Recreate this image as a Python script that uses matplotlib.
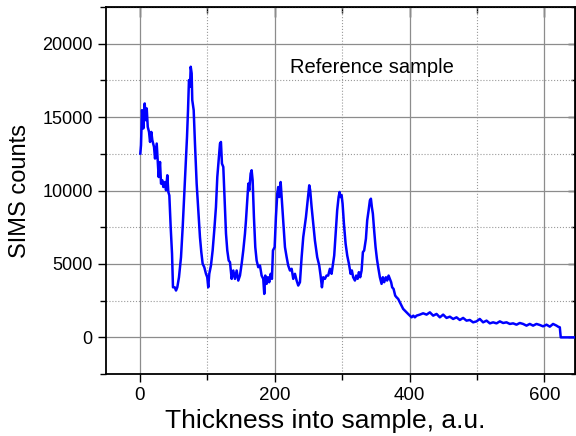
import numpy as np
import matplotlib
matplotlib.use("Agg")
import matplotlib.pyplot as plt
from matplotlib.ticker import MultipleLocator

plt.rcParams['font.family'] = ['Liberation Sans', 'DejaVu Sans']

# depth profile (thickness, counts)
thickness = [
    0.9, 1.9, 3.4, 5.3, 7.4, 8.9, 10.4, 11.9, 13.8, 15.3, 17.2, 18.7, 21.2, 22.7,
    25.2, 26.7, 28.1, 30.1, 31.6, 33.5, 35.0, 37.5, 39.0, 40.9, 42.4, 43.9, 45.9,
    47.9, 49.3, 51.9, 53.8, 55.7, 58.2, 61.2, 63.7, 66.1, 68.1, 70.1, 71.6, 73.0,
    74.5, 75.6, 77.0, 77.9, 80.0, 81.9, 84.4, 86.8, 89.3, 91.3, 93.3, 95.7, 98.2,
    100.1, 101.6, 103.1, 105.6, 108.1, 110.5, 113.0, 115.0, 117.0, 119.0, 120.4,
    121.9, 123.9, 125.9, 127.9, 129.8, 131.9,
    133.8, 136.3, 138.7, 141.2, 143.7, 146.1, 148.6, 151.1, 153.5, 156.0, 157.5,
    159.4, 161.0, 162.4, 164.4, 165.9, 167.4, 169.3, 171.3, 173.3, 175.7, 178.2,
    180.7, 183.1, 184.6, 186.1, 188.1, 190.1, 192.0, 194.1, 196.0, 197.5, 200.0,
    201.9, 203.9, 205.3, 206.8, 208.9, 210.4, 212.7, 215.3, 217.8, 220.1, 222.7,
    225.2, 227.6, 230.1, 232.6, 235.0, 237.5, 240.0, 242.4, 246.4, 248.9, 251.3,
    252.7, 254.8, 257.2, 259.7, 263.1, 266.1, 268.1, 270.1, 272.0, 274.5, 277.0,
    279.4, 281.9, 284.4,
    288.3, 290.4, 292.7, 294.8, 296.3, 297.8, 299.3, 300.7, 302.7, 305.2, 307.6,
    310.1, 312.6, 314.5, 316.4, 319.0, 320.9, 323.0, 324.9, 326.8, 328.9, 330.8,
    332.7, 335.3, 337.2, 339.3, 341.2, 342.7, 344.1, 345.6, 347.5, 349.6, 351.6,
    353.5, 356.0, 358.5, 360.4, 362.4, 364.9, 366.8, 368.9, 370.8, 372.7, 374.2,
    376.3, 378.7, 380.7, 383.1, 385.6, 388.1, 390.5, 393.0, 395.6, 397.9, 400.4,
    403.0, 405.5, 407.9, 410.4,
    415.3, 420.1, 425.2, 430.1, 435.0, 440.0, 444.9, 449.8, 454.8, 459.7, 464.6,
    469.6, 474.5, 479.4, 484.4, 489.3, 494.2, 499.3, 504.1, 509.0, 514.1, 519.0,
    523.9, 528.9, 533.8, 538.7, 543.7, 548.6, 553.5, 558.5, 563.4, 568.3, 573.3,
    578.2, 583.1, 588.1, 593.0, 597.9, 603.0, 607.9, 612.7, 617.8, 620.1, 622.7,
    624.1, 645.0,
]
counts = [
    12520, 13085, 15475, 14225, 15930, 14790, 15590, 14335, 13990, 13310, 13990,
    13425, 12970, 12180, 13200, 12060, 10920, 11945, 10470, 10695, 10240, 10580,
    10015, 11040, 9900, 9670, 7510, 5690, 3410, 3410, 3190, 3410, 4095, 5460, 7510,
    9790, 11835, 13650, 15475, 17520, 17065, 18430, 17980, 16155, 15475, 13200,
    10470, 8650, 6825, 5800, 5010, 4780, 4330, 4095, 3410, 4330, 4895, 5920, 7285,
    8875, 10920, 12060, 13200, 13310, 11835, 11605, 9330, 7060, 5920, 5235,
    5120, 3985, 4555, 3985, 4555, 3870, 4210, 5010, 5920, 7060, 7965, 9330, 10470,
    10015, 11155, 11380, 10695, 8190, 6145, 5235, 4780, 4895, 4210, 3985, 2960,
    4210, 3645, 4095, 3755, 4330, 3985, 5920, 6145, 8190, 9790, 10240, 9555, 10580,
    9555, 7965, 6145, 5460, 4895, 4555, 4670, 3985, 4330, 3870, 3530, 3755, 5460,
    6825, 8190, 9330, 10355, 10015, 8875, 7740, 6600, 5460, 4895, 4210, 3410, 4095,
    3985, 4210, 4210, 4670, 4330,
    5575, 7060, 8650, 9555, 9900, 9555, 9670, 9105, 7740, 6375, 5575, 5010, 4330,
    4555, 4095, 3870, 4210, 3985, 4440, 4095, 4555, 5800, 5920, 6715, 7965, 8650,
    9330, 9445, 8875, 8420, 7285, 6145, 5350, 4780, 4095, 3645, 4095, 3755, 4095,
    3870, 4210, 3985, 3755, 3410, 3300, 2845, 2730, 2620, 2390, 2165, 1940, 1820,
    1705, 1595, 1480, 1365, 1480, 1365, 1480,
    1550, 1640, 1550, 1705, 1480, 1595, 1365, 1550, 1325, 1410, 1255, 1365, 1185,
    1325, 1140, 1185, 1025, 1090, 1255, 1025, 1140, 955, 1025, 955, 1090, 980, 1025,
    915, 955, 865, 980, 915, 800, 915, 800, 915, 845, 750, 865, 730, 915, 800, 730,
    685, 0, 0,
]

fig = plt.figure(figsize=(5.76, 4.36), dpi=100)
ax = fig.add_axes([0.184, 0.142, 0.814, 0.842])

ax.plot(thickness, counts, color='#0000ff', lw=1.8, zorder=3)

ax.set_xlim(-50, 645)
ax.set_ylim(-2500, 22500)
ax.xaxis.set_major_locator(MultipleLocator(200))
ax.xaxis.set_minor_locator(MultipleLocator(100))
ax.yaxis.set_major_locator(MultipleLocator(5000))
ax.yaxis.set_minor_locator(MultipleLocator(2500))

ax.grid(which='major', color='#8c8c8c', lw=0.9, ls='-')
ax.grid(which='minor', color='#9a9a9a', lw=0.8, ls=':')
ax.set_axisbelow(True)

for s in ax.spines.values():
    s.set_linewidth(1.3)

# bottom/left ticks point out, top/right point in
ax.tick_params(which='both', direction='out', width=1.0)
ax.tick_params(axis='x', labelsize=13.5)
ax.tick_params(axis='y', labelsize=13)
ax.tick_params(which='major', length=6)
ax.tick_params(which='minor', length=4)

top = ax.secondary_xaxis('top')
top.xaxis.set_major_locator(MultipleLocator(200))
top.xaxis.set_minor_locator(MultipleLocator(100))
top.tick_params(which='both', direction='in', labeltop=False, width=1.0)
top.tick_params(which='major', length=7)
top.tick_params(which='minor', length=4)

right = ax.secondary_yaxis('right')
right.yaxis.set_major_locator(MultipleLocator(5000))
right.yaxis.set_minor_locator(MultipleLocator(2500))
right.tick_params(which='both', direction='in', labelright=False, width=1.0)
right.tick_params(which='major', length=5)
right.tick_params(which='minor', length=3)

ax.set_xlabel('Thickness into sample, a.u.', fontsize=19, labelpad=0)
ax.xaxis.set_label_coords(0.467, -0.094)
ax.set_ylabel('SIMS counts', fontsize=17, labelpad=8)
ax.text(223, 18400, 'Reference sample', fontsize=14.5, va='center')

fig.savefig('out.png', dpi=100)
